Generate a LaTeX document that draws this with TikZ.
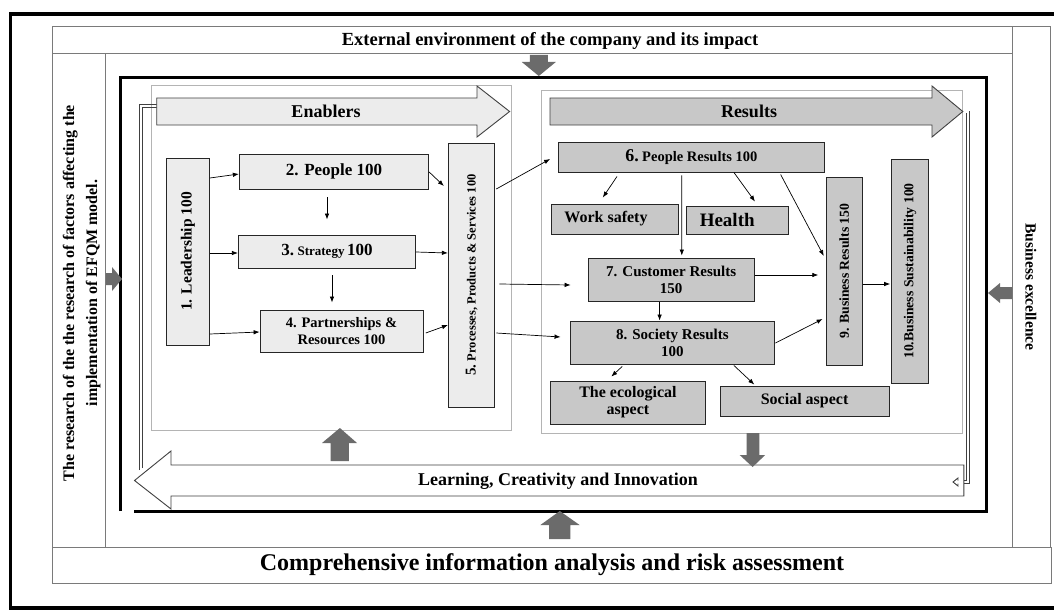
\documentclass[tikz,border=0pt]{standalone}
\usepackage{fontspec}
\setmainfont{Liberation Serif}
\usepackage{graphicx}
\usetikzlibrary{calc,arrows.meta}
\definecolor{enfill}{HTML}{ECECEC}
\definecolor{resfill}{HTML}{C8C8C8}
\definecolor{bigarrow}{HTML}{6B6B6B}
\definecolor{frameline}{HTML}{7A7A7A}
\definecolor{panelline}{HTML}{B4B4B4}
\newcommand\myfs[1]{\fontsize{#1}{#1}\selectfont}
\begin{document}
\begin{tikzpicture}[x=1pt,y=-1pt,
  frame/.style={draw=frameline,line width=1pt},
  panel/.style={draw=panelline,line width=1pt},
  ebox/.style={draw=black!85,line width=0.9pt,fill=enfill,inner sep=0pt,align=center,font=\bfseries},
  rbox/.style={draw=black!85,line width=0.9pt,fill=resfill,inner sep=0pt,align=center,font=\bfseries},
  conn/.style={draw=black,line width=0.7pt,-{Latex[length=6pt,width=4.5pt]}},
  blockarrow/.style={draw=black!75,line width=0.9pt},
  grayarrow/.style={fill=bigarrow,draw=none},
  dline/.style={draw=black!75,line width=0.9pt},
  lbl/.style={inner sep=0pt,font=\bfseries,align=center}]
\useasboundingbox (0,0) rectangle (1054,610);
\fill[white] (0,0) rectangle (1054,610);
% outer thick frame
\draw[line width=3.5pt] (10.3,14) rectangle (1062,608);
% surrounding bands
\draw[frame] (52.7,27) rectangle (1012,54);
\draw[frame] (1012,27) rectangle (1050,547);
\draw[frame] (52.7,54) rectangle (105.4,547);
\draw[frame] (52.7,547) rectangle (1051,583);
\node[lbl,font=\bfseries\myfs{18.5}] (ext) at (550,41) {External environment of the company and its impact};
\node[lbl,font=\bfseries\myfs{24}] (info) at (552,565) {Comprehensive information analysis and risk assessment};
\node[lbl] (research) at (81,293) {\rotatebox{90}{\fontsize{16}{23}\selectfont\bfseries\begin{tabular}{@{}c@{}}The research of the the research of factors affecting the\\implementation of EFQM model.\end{tabular}}};
\node[lbl] (excel) at (1031,287) {\rotatebox{-90}{\bfseries\myfs{15.5}Business excellence}};
% inner thick frame
\draw[line width=3pt] (120.5,511) -- (120.5,77) -- (986.7,77) -- (986.7,511) -- (134,511);
% panels
\draw[panel] (151.5,85) rectangle (511.4,430);
\draw[panel] (541,90) rectangle (962.8,433);
% feedback double lines
\draw[dline] (139.5,470) -- (139.5,104.5) -- (156.7,104.5);
\draw[dline] (142.5,468) -- (142.5,107.5) -- (156.7,107.5);
\draw[dline] (969.5,111) -- (969.5,483.5) -- (958,483.5);
\draw[dline] (966.5,113) -- (966.5,480.5) -- (958,480.5);
% big block arrows
\draw[blockarrow,fill=enfill] (156.7,98) -- (477,98) -- (477,86) -- (509.6,111.5) -- (477,137) -- (477,125) -- (156.7,125) -- cycle;
\node[lbl,font=\bfseries\myfs{18}] (enablers) at (326,111.5) {Enablers};
\draw[blockarrow,fill=resfill] (550,98) -- (932,98) -- (932,86) -- (962.8,111.5) -- (932,137) -- (932,125) -- (550,125) -- cycle;
\node[lbl,font=\bfseries\myfs{18}] (results) at (749,111.5) {Results};
\draw[blockarrow,fill=white] (963.8,465) -- (171,465) -- (171,451) -- (134.5,480.5) -- (171,509) -- (171,496) -- (963.8,496) -- cycle;
\node[lbl,font=\bfseries\myfs{18}] (learning) at (558,481) {Learning, Creativity and Innovation};
\draw[dline] (958,480.5) -- (958,478) -- (953,482) -- (958,486) -- (958,483.5);
% gray arrows
\fill[grayarrow] (529.8,55) -- (547.8,55) -- (547.8,62) -- (555.8,62) -- (538.8,76) -- (521.8,62) -- (529.8,62) -- cycle;
\fill[grayarrow] (106,273) -- (112,273) -- (112,267) -- (122,279) -- (112,291) -- (112,285) -- (106,285) -- cycle;
\fill[grayarrow] (1012,287) -- (1000,287) -- (1000,283) -- (988,293) -- (1000,303) -- (1000,299) -- (1012,299) -- cycle;
\fill[grayarrow] (330.6,461) -- (330.6,443) -- (322,443) -- (339.9,428) -- (357,443) -- (348.8,443) -- (348.8,461) -- cycle;
\fill[grayarrow] (746.5,433) -- (759.4,433) -- (759.4,455) -- (765.2,455) -- (752.6,467) -- (739.7,455) -- (746.5,455) -- cycle;
\fill[grayarrow] (549,539) -- (549,525) -- (540.4,525) -- (559.8,511) -- (579.6,525) -- (570.4,525) -- (570.4,539) -- cycle;
% enabler boxes
\node[ebox,minimum width=43.1pt,minimum height=187pt] (n1) at (187.9,251.5) {\rotatebox{90}{\myfs{15.5}1. Leadership 100}};
\node[ebox,minimum width=189.4pt,minimum height=35pt,font=\bfseries\myfs{17}] (n2) at (334,171.5) {2. People 100};
\node[ebox,minimum width=177.3pt,minimum height=33pt] (n3) at (327,251.5) {{\myfs{17}3.} {\myfs{13}Strategy} {\myfs{17}100}};
\node[ebox,minimum width=162.9pt,minimum height=42pt,font=\bfseries\fontsize{14.5}{17}\selectfont] (n4) at (341.5,331) {4. Partnerships \&\\Resources 100};
\node[ebox,minimum width=46.5pt,minimum height=264pt] (n5) at (471.6,275) {\rotatebox{90}{{\myfs{15}5.} {\myfs{12.5}Processes, Products \& Services 100}}};
% result boxes
\node[rbox,minimum width=265.7pt,minimum height=30pt] (n6) at (691.4,157) {{\myfs{18}6.} {\myfs{14.5}People Results 100}};
\node[rbox,minimum width=126.7pt,minimum height=30pt,font=\bfseries\myfs{16}] (ws) at (615,219) {\hspace*{-18pt}Work safety};
\node[rbox,minimum width=102.5pt,minimum height=28pt,font=\bfseries\myfs{19}] (he) at (737.2,220) {\hspace*{-20pt}Health};
\node[rbox,minimum width=166.2pt,minimum height=43pt,font=\bfseries\fontsize{15}{17}\selectfont] (n7) at (671.2,279.5) {7. Customer Results\\150};
\node[rbox,minimum width=204.8pt,minimum height=43pt,font=\bfseries\fontsize{15}{17}\selectfont] (n8) at (672.4,342.5) {8. Society Results\\100};
\node[rbox,minimum width=154.3pt,minimum height=43pt,font=\bfseries\fontsize{16}{17}\selectfont] (eco) at (627.9,402.5) {The ecological\\aspect};
\node[rbox,minimum width=169.2pt,minimum height=30pt,font=\bfseries\myfs{16}] (so) at (804.6,401) {Social aspect};
\node[rbox,minimum width=35.5pt,minimum height=188pt] (n9) at (844.3,271) {\rotatebox{90}{\myfs{13.7}9. Business Results 150}};
\node[rbox,minimum width=37.4pt,minimum height=224pt] (n10) at (910,271) {\rotatebox{90}{\myfs{13.7}10.Business Sustainability 100}};
% connectors
\draw[conn] ($(n1.east)+(0,-73.5)$) -- ($(n2.west)+(0,2.5)$);
\draw[conn] ($(n1.east)+(0,1.5)$) -- ($(n3.west)+(0,1.5)$);
\draw[conn] ($(n1.east)+(0,82.5)$) -- ($(n4.west)+(0,1)$);
\draw[conn] ($(n2.south)+(-7,8)$) -- ($(n3.north)+(0,-15)$);
\draw[conn] ($(n3.south)+(5,7)$) -- ($(n4.north)+(-9.5,-7)$);
\draw[conn] ($(n2.east)+(0,0.5)$) -- ($(n5.west)+(-4,-89)$);
\draw[conn] ($(n3.east)+(0,0.5)$) -- ($(n5.west)+(0,-22)$);
\draw[conn] ($(n4.east)+(2.4,2)$) -- ($(n5.west)+(0,50)$);
\draw[conn] ($(n5.east)+(1,-86)$) -- ($(n6.west)+(-8,2)$);
\draw[conn] ($(n5.east)+(4,9)$) -- ($(n7.west)+(-17,5.5)$);
\draw[conn] ($(n5.east)+(1,58)$) -- ($(n8.west)+(-9,-5.5)$);
\draw[conn] ($(n6.south)+(-74.4,4)$) -- ($(ws.north)+(-12.2,-6)$);
\draw[conn] ($(n6.south)+(42.5,0)$) -- ($(he.north)+(17.8,-4)$);
\draw[conn] ($(n6.south)+(-9.6,3)$) -- ($(n7.north)+(10.6,-2)$);
\draw[conn] ($(n6.south)+(89.2,2)$) -- ($(n9.west)+(-2.3,-15)$);
\draw[conn] ($(n7.east)+(0.7,-4.5)$) -- ($(n9.west)+(-7.8,4)$);
\draw[conn] ($(n7.south)+(-11.6,1)$) -- ($(n8.north)+(-12.8,0)$);
\draw[conn] ($(n8.east)+(0.2,0.5)$) -- ($(n9.west)+(-3.5,48)$);
\draw[conn] ($(n8.south)+(-50.2,2)$) -- ($(eco.north)+(-16.6,-4)$);
\draw[conn] ($(n8.south)+(61.5,1)$) -- ($(so.north)+(-50.3,-1)$);
\draw[conn] ($(n9.east)+(0,13)$) -- ($(n10.west)+(-0.7,13)$);
\end{tikzpicture}
\end{document}
